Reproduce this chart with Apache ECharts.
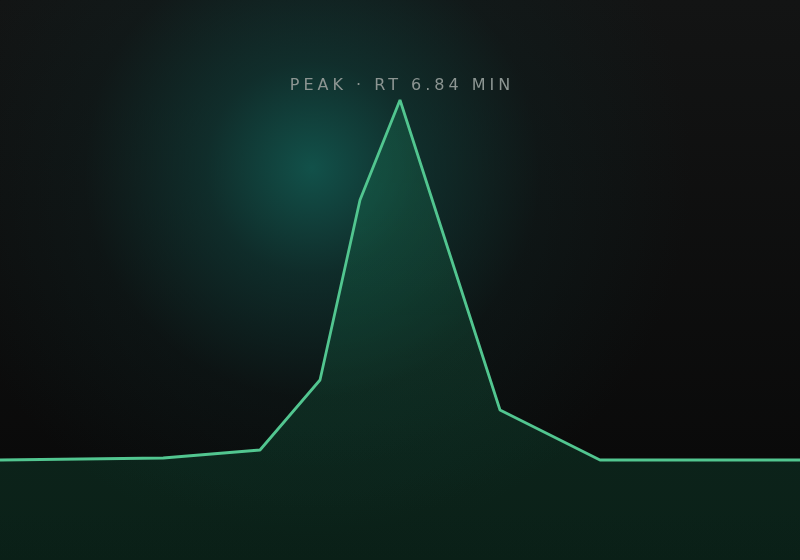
<!DOCTYPE html>
<html>
<head>
<meta charset="utf-8">
<script src="https://cdn.jsdelivr.net/npm/echarts@6/dist/echarts.min.js"></script>
<style>
  html, body { margin: 0; padding: 0; }
  body {
    width: 800px; height: 560px; position: relative;
    background:
      radial-gradient(circle 380px at 312px 168px, rgba(18, 88, 80, 0.9) 0%, rgba(16, 64, 60, 0.6) 28%, rgba(14, 38, 38, 0.28) 60%, rgba(12, 20, 20, 0) 100%),
      linear-gradient(#131414, #080808);
  }
  #chart { width: 800px; height: 560px; }
  #title {
    position: absolute; left: 0; right: 0; top: 75px;
    text-align: center; font-family: 'DejaVu Sans', sans-serif;
    font-size: 16px; letter-spacing: 4px; color: #8c9592;
    padding-left: 4px; pointer-events: none;
  }
</style>
</head>
<body>
<div id="chart"></div>
<div id="title"></div>
<script>
// retention time (scaled 0-100) and detector signal
const times = [0, 20.4, 32.5, 40, 45, 50, 62.5, 75, 100];
const signal = [20, 20.4, 22, 36, 72, 92, 30, 20, 20];
const titleText = 'PEAK · RT 6.84 MIN';

document.getElementById('title').textContent = titleText;

const chart = echarts.init(document.getElementById('chart'), null, { renderer: 'canvas' });

chart.setOption({
  backgroundColor: 'transparent',
  grid: { left: 0, right: 0, top: 0, bottom: 0 },
  xAxis: { type: 'value', min: 0, max: 100, show: false },
  yAxis: { type: 'value', min: 0, max: 112, show: false },
  series: [
    {
      type: 'line',
      data: times.map((t, i) => [t, signal[i]]),
      symbol: 'none',
      lineStyle: { color: '#52c690', width: 2.8 },
      areaStyle: {
        color: new echarts.graphic.LinearGradient(0, 0, 0, 1, [
          { offset: 0, color: 'rgba(32, 140, 96, 0.36)' },
          { offset: 1, color: 'rgba(18, 121, 81, 0.3)' }
        ])
      }
    }
  ]
});
</script>
</body>
</html>
